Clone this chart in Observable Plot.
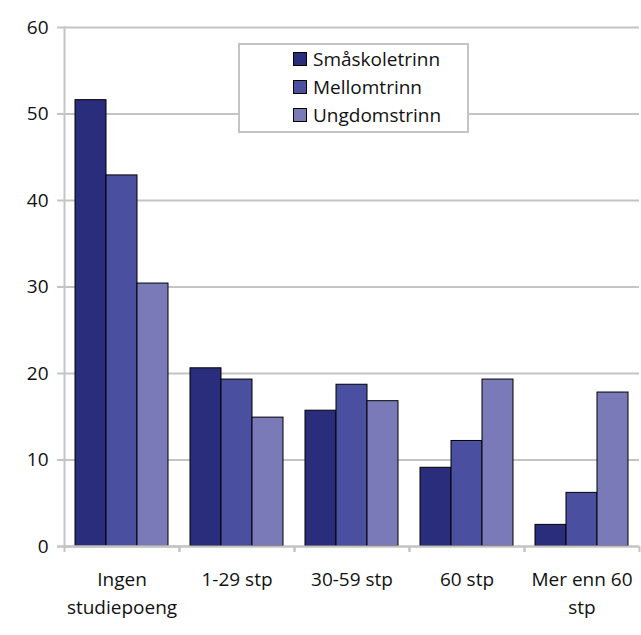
<!DOCTYPE html>
<html>
<head>
<meta charset="utf-8">
<script src="https://cdn.jsdelivr.net/npm/d3@7"></script>
<script src="https://cdn.jsdelivr.net/npm/@observablehq/plot@0.6"></script>
<style>
  html, body { margin: 0; padding: 0; background: white; }
  #wrap { position: relative; width: 641px; height: 635px; font-family: "Open Sans", sans-serif; }
  #wrap svg text { font-size: 19px; }
  #legend { position: absolute; left: 238px; top: 43px; width: 227px; height: 86px;
            border: 2px solid #c4c4c4; background: white; box-sizing: content-box; }
  .row { position: absolute; left: 53px; height: 28px; display: flex; align-items: center;
         font-size: 19px; color: #111; }
  .sw { width: 12px; height: 12px; border: 1px solid #000; margin-right: 6px; }
</style>
</head>
<body>
<div id="wrap"></div>
<script>
const categories = ["Ingen\nstudiepoeng", "1-29 stp", "30-59 stp", "60 stp", "Mer enn 60\nstp"];
const series = ["Småskoletrinn", "Mellomtrinn", "Ungdomstrinn"];
const smaskoletrinn = [51.6, 20.6, 15.7, 9.1, 2.5];
const mellomtrinn = [42.9, 19.3, 18.7, 12.2, 6.2];
const ungdomstrinn = [30.4, 14.9, 16.8, 19.3, 17.8];
const colors = ["#2a2d7c", "#4b4f9f", "#7b7ab8"];
const yTicks = [0, 10, 20, 30, 40, 50, 60];

const values = [smaskoletrinn, mellomtrinn, ungdomstrinn];
const data = [];
categories.forEach((c, i) => series.forEach((s, j) => data.push({cat: c, series: s, value: values[j][i]})));

const W = 641, H = 635, ML = 64, MR = 2, MT = 27, MB = 89;
const step = (W - ML - MR) / categories.length;
const grid = "#c4c4c4";

const chart = Plot.plot({
  width: W, height: H,
  marginLeft: ML, marginRight: MR, marginTop: MT, marginBottom: MB,
  style: {fontFamily: "'Open Sans', sans-serif", fontSize: "19px", color: "#111", background: "white", overflow: "visible"},
  fx: {domain: categories, padding: 0, label: null, axis: null},
  x: {domain: series, paddingInner: 0, paddingOuter: 0.34, axis: null},
  y: {domain: [0, 60], label: null, axis: null},
  color: {domain: series, range: colors},
  marks: [
    Plot.gridY(yTicks, {stroke: grid, strokeWidth: 2, strokeOpacity: 1}),
    Plot.barY(data, {fx: "cat", x: "series", y: "value", fill: "series", stroke: "#000", strokeWidth: 1}),
    Plot.ruleY([0], {stroke: grid, strokeWidth: 2}),
    Plot.ruleY([0], {stroke: grid, strokeWidth: 2, facetAnchor: "left", insetLeft: -7}),
    Plot.frame({anchor: "left", facetAnchor: "left", stroke: grid, strokeWidth: 2}),
    Plot.axisY(yTicks, {tickSize: 7, tickPadding: 9, stroke: grid, strokeWidth: 2, label: null, fontSize: 19}),
    Plot.axisFx({anchor: "bottom", tickSize: 0, tickPadding: 20, lineHeight: 1.45, label: null, fontSize: 19}),
    Plot.axisFx({anchor: "bottom", text: null, tickSize: 6, dx: -step / 2, stroke: grid, strokeWidth: 2, label: null}),
    Plot.axisFx([categories[categories.length - 1]], {anchor: "bottom", text: null, tickSize: 6, dx: step / 2, stroke: grid, strokeWidth: 2, label: null})
  ]
});

const wrap = document.getElementById("wrap");
wrap.appendChild(chart);

const legend = document.createElement("div");
legend.id = "legend";
series.forEach((s, i) => {
  const row = document.createElement("div");
  row.className = "row";
  row.style.top = (i * 28) + "px";
  const sw = document.createElement("div");
  sw.className = "sw";
  sw.style.background = colors[i];
  const t = document.createElement("span");
  t.textContent = s;
  row.appendChild(sw);
  row.appendChild(t);
  legend.appendChild(row);
});
wrap.appendChild(legend);
</script>
</body>
</html>
